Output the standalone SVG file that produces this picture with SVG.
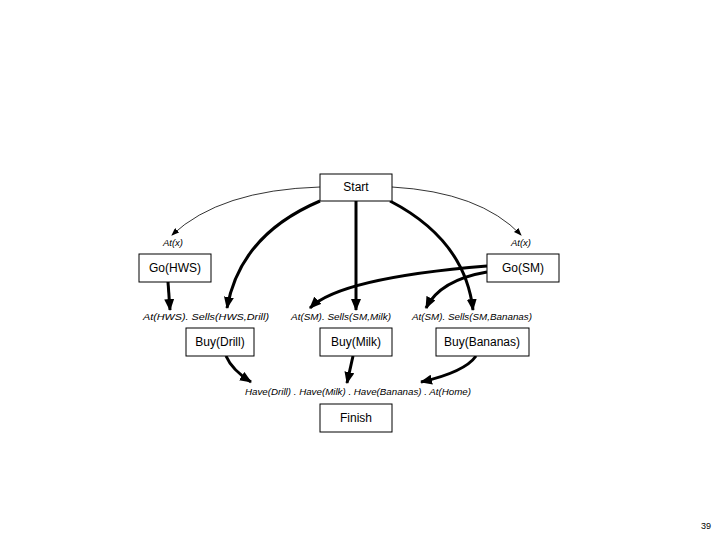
<svg xmlns="http://www.w3.org/2000/svg" width="720" height="540" viewBox="0 0 720 540">
<style>
.box{fill:#fff;stroke:#000;stroke-width:1}
.t{font-family:"Liberation Sans",Arial,sans-serif;font-size:12px;text-anchor:middle;fill:#000}
.l{font-family:"Liberation Sans",Arial,sans-serif;font-size:9.5px;font-style:italic;text-anchor:middle;fill:#000}
.thin{fill:none;stroke:#000;stroke-width:0.8}
.thick{fill:none;stroke:#000;stroke-width:3}
</style>
<defs>
<marker id="a" markerWidth="8" markerHeight="6" refX="7" refY="3" orient="auto" markerUnits="userSpaceOnUse"><path d="M0,0 L8,3 L0,6 Z" fill="#000"/></marker>
<marker id="b" markerWidth="12" markerHeight="10" refX="11" refY="5" orient="auto" markerUnits="userSpaceOnUse"><path d="M0,0 L12,5 L0,10 Z" fill="#000"/></marker>
</defs>
<rect width="720" height="540" fill="#fff"/>
<g id="connectors">
<path class="thin" d="M320,187 Q220,190 172,235" marker-end="url(#a)"/>
<path class="thin" d="M392,187 Q480,192 521,235" marker-end="url(#a)"/>
<path class="thick" d="M320,201 Q240,235 227,308" marker-end="url(#b)"/>
<path class="thick" d="M356,201 L356,310" marker-end="url(#b)"/>
<path class="thick" d="M390,201 Q465,240 473,310" marker-end="url(#b)"/>
<path class="thick" d="M487,266 Q340,278 310,308" marker-end="url(#b)"/>
<path class="thick" d="M487,272 Q440,280 426,308" marker-end="url(#b)"/>
<path class="thick" d="M168,282 L170,310" marker-end="url(#b)"/>
<path class="thick" d="M226,356 Q232,370 251,382" marker-end="url(#b)"/>
<path class="thick" d="M353,356 L347,383" marker-end="url(#b)"/>
<path class="thick" d="M476,356 Q465,372 421,382" marker-end="url(#b)"/>
</g>
<g id="start"><rect class="box" x="320" y="174" width="72" height="27"/><text class="t" x="356" y="191">Start</text></g>
<g id="gohws"><rect class="box" x="139" y="254" width="72" height="28"/><text class="t" x="175" y="272">Go(HWS)</text></g>
<g id="gosm"><rect class="box" x="487" y="254" width="72" height="28"/><text class="t" x="523" y="272">Go(SM)</text></g>
<g id="buydrill"><rect class="box" x="186" y="328" width="68" height="28"/><text class="t" x="220" y="346">Buy(Drill)</text></g>
<g id="buymilk"><rect class="box" x="320" y="328" width="72" height="28"/><text class="t" x="356" y="346">Buy(Milk)</text></g>
<g id="buybananas"><rect class="box" x="436" y="328" width="93" height="28"/><text class="t" x="482" y="346">Buy(Bananas)</text></g>
<g id="finish"><rect class="box" x="320" y="404" width="72" height="28"/><text class="t" x="356" y="422">Finish</text></g>
<g id="labels">
<text class="l" x="173" y="246">At(x)</text>
<text class="l" x="521" y="246">At(x)</text>
<text class="l" x="206" y="320" textLength="126" lengthAdjust="spacingAndGlyphs">At(HWS). Sells(HWS,Drill)</text>
<text class="l" x="341" y="320" textLength="100" lengthAdjust="spacingAndGlyphs">At(SM). Sells(SM,Milk)</text>
<text class="l" x="472" y="320" textLength="120" lengthAdjust="spacingAndGlyphs">At(SM). Sells(SM,Bananas)</text>
<text class="l" x="358" y="395" textLength="226" lengthAdjust="spacingAndGlyphs">Have(Drill) . Have(Milk) . Have(Bananas) . At(Home)</text>
</g>
<text x="706" y="529" style="font-family:'Liberation Sans',Arial,sans-serif;font-size:9px;text-anchor:middle">39</text>
</svg>
